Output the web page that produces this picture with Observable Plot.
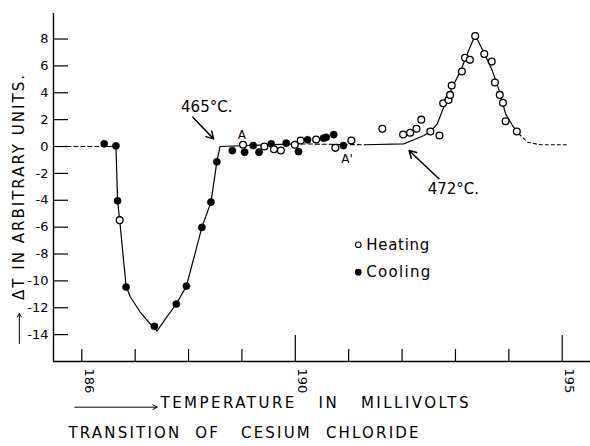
<!DOCTYPE html>
<html><head><meta charset="utf-8">
<script src="https://cdn.jsdelivr.net/npm/d3@7"></script>
<script src="https://cdn.jsdelivr.net/npm/@observablehq/plot@0.6"></script>
<style>
html,body{margin:0;padding:0;background:#fff;}
#chart{width:590px;height:446px;overflow:hidden;}
</style></head><body><div id="chart"></div>
<script>
// ---- axis ticks ----
const xTicks = [186,187,188,189,190,191,192,193,194,195];
const xMajorTicks = [190,195];
const xTickLabels = [186,190,195];
const yTicks = [8,6,4,2,0,-2,-4,-6,-8,-10,-12,-14];

// ---- observations ----
const coolingX = [186.42,186.64,186.67,186.83,187.36,187.77,187.96,188.25,188.42,188.53,188.82,189.05,189.21,189.32,189.55,189.83,190.06,190.23,190.53,190.58,190.72,190.90];
const coolingY = [0.2,0.05,-4.04,-10.46,-13.38,-11.72,-10.39,-6.02,-4.14,-1.14,-0.3,-0.42,0.07,-0.42,0.2,0.25,-0.37,0.5,0.62,0.69,0.89,0.07];
const heatingX = [186.71,189.02,189.42,189.60,189.73,189.99,190.10,190.39,190.75,191.05,191.63,192.02,192.15,192.27,192.36,192.53,192.70,192.77,192.87,192.90,192.93,193.12,193.18,193.27,193.37,193.54,193.68,193.74,193.83,193.89,193.94,194.15];
const heatingY = [-5.48,0.13,0,-0.2,-0.3,0.13,0.45,0.52,-0.1,0.45,1.32,0.89,1.02,1.32,2.0,1.12,0.82,3.22,3.47,3.84,4.54,5.58,6.6,6.45,8.23,6.89,6.32,4.76,3.84,3.25,1.88,1.12];

// ---- drawn curve (segments) ----
const leadX = [185.72,186.42], leadY = [0,0];
const dipX = [186.42,186.64,186.67,186.71,186.83,186.91,187.09,187.25,187.41,187.59,187.77,187.96,188.25,188.42,188.53,188.59,189.98];
const dipY = [0,0,-4.0,-5.5,-10.4,-11.2,-12.3,-13.06,-13.73,-12.7,-11.72,-10.39,-6.02,-4.14,-1.14,0,0.2];
const gapX = [189.98,191.3], gapY = [0.2,0.13];
const peakX = [191.3,192.03,192.22,192.41,192.53,192.66,192.78,192.94,193.10,193.22,193.37,193.53,193.69,193.82,193.94,194.07,194.19];
const peakY = [0.13,0.2,0.5,0.82,1.12,1.69,2.92,4.41,5.65,6.89,8.3,7.01,5.65,4.16,2.43,1.56,0.94];
const tailX = [194.19,194.35,194.6,195.1], tailY = [0.94,0.32,0.13,0.13];

// ---- annotations ----
const annoText = ["465°C.","472°C."];
const annoX = [187.86,192.48], annoY = [2.94,-3.2];
const annoArrowX1 = [188.08,192.69], annoArrowY1 = [2.18,-2.4];
const annoArrowX2 = [188.47,192.13], annoArrowY2 = [0.57,-0.3];
const pointLabels = ["A","A'"];
const pointLabelX = [189.0,190.97], pointLabelY = [0.82,-0.92];
const legendNames = ["Heating","Cooling"];
const legendX = 191.18, legendTextX = 191.33, legendY = [-7.31,-9.35];

const yTitle = "ΔT IN ARBITRARY UNITS.";
const xTitle = "TEMPERATURE\u00a0\u00a0\u00a0IN\u00a0\u00a0\u00a0MILLIVOLTS";
const caption = "TRANSITION\u00a0\u00a0OF\u00a0\u00a0\u00a0CESIUM\u00a0\u00a0CHLORIDE";
const yTitleArrow = {x: 184.83, y1: -14.66, y2: -12.43};
const xTitleArrow = {x1: 185.87, x2: 187.41, y: -19.4};

const xDomain = [185.47,195.53], yDomain = [-16,9.9];
const pts = (X,Y) => X.map((x,i)=>({x, y:Y[i]}));

const W = 590, H = 446, mL = 53, mR = 0, mT = 13, mB = 85;
const frameW = W-mL-mR, frameH = H-mT-mB;

const chart = Plot.plot({
  width: W, height: H,
  marginLeft: mL, marginRight: mR, marginTop: mT, marginBottom: mB,
  x: {domain: xDomain, axis: null},
  y: {domain: yDomain, axis: null},
  style: {fontFamily: "DejaVu Sans", fontSize: "13px", background: "white", color: "black"},
  marks: [
    // axes
    Plot.ruleX([xDomain[0]], {stroke: "black", strokeWidth: 1.4}),
    Plot.ruleY([yDomain[0]], {stroke: "black", strokeWidth: 1.4}),
    Plot.ruleX(xTicks.filter(t => !xMajorTicks.includes(t)), {x: d=>d, insetTop: frameH-12, stroke: "black", strokeWidth: 1.2}),
    Plot.ruleX(xMajorTicks, {x: d=>d, insetTop: frameH-26, stroke: "black", strokeWidth: 1.2}),
    Plot.ruleY(yTicks, {y: d=>d, insetRight: frameW-15, stroke: "black", strokeWidth: 1.2}),
    Plot.text(yTicks, {y: d=>d, frameAnchor: "left", text: d=>String(d), textAnchor: "end", dx: -5, fontSize: 13}),
    Plot.text(xTickLabels, {x: d=>d, frameAnchor: "bottom", text: d=>String(d), rotate: 90, textAnchor: "start", dy: 7, dx: 3, fontSize: 13}),
    // axis titles
    Plot.text([yTitle], {frameAnchor: "left", text: d=>d, rotate: -90, textAnchor: "middle", dx: -34, fontSize: 15}),
    Plot.arrow([yTitleArrow], {x: "x", y1: "y1", y2: "y2", stroke: "black", strokeWidth: 1, headLength: 6}),
    Plot.text([xTitle], {frameAnchor: "bottom-left", text: d=>d, textAnchor: "start", dx: 107, dy: 46, fontSize: 15}),
    Plot.arrow([xTitleArrow], {x1: "x1", x2: "x2", y: "y", stroke: "black", strokeWidth: 1, headLength: 7}),
    Plot.text([caption], {frameAnchor: "bottom-left", text: d=>d, textAnchor: "start", dx: 15, dy: 76, fontSize: 15}),
    // curve
    Plot.line(pts(leadX, leadY), {x: "x", y: "y", stroke: "black", strokeWidth: 1.2, strokeDasharray: "4,3"}),
    Plot.line(pts(dipX, dipY), {x: "x", y: "y", stroke: "black", strokeWidth: 1.2}),
    Plot.line(pts(gapX, gapY), {x: "x", y: "y", stroke: "black", strokeWidth: 1.1, strokeDasharray: "4,3"}),
    Plot.line(pts(peakX, peakY), {x: "x", y: "y", stroke: "black", strokeWidth: 1.2}),
    Plot.line(pts(tailX, tailY), {x: "x", y: "y", stroke: "black", strokeWidth: 1.1, strokeDasharray: "3,3"}),
    // observations
    Plot.dot(pts(coolingX, coolingY), {x: "x", y: "y", r: 3.6, fill: "black", stroke: "black", strokeWidth: 0.5}),
    Plot.dot(pts(heatingX, heatingY), {x: "x", y: "y", r: 3.4, fill: "white", stroke: "black", strokeWidth: 1.3}),
    // annotations
    Plot.text(annoText.map((t,i)=>({t, x: annoX[i], y: annoY[i]})), {x: "x", y: "y", text: "t", textAnchor: "start", fontSize: 15}),
    Plot.arrow(annoText.map((t,i)=>({x1: annoArrowX1[i], y1: annoArrowY1[i], x2: annoArrowX2[i], y2: annoArrowY2[i]})), {x1: "x1", y1: "y1", x2: "x2", y2: "y2", stroke: "black", strokeWidth: 1.5, headLength: 8}),
    Plot.text(pointLabels.map((t,i)=>({t, x: pointLabelX[i], y: pointLabelY[i]})), {x: "x", y: "y", text: "t", fontSize: 12}),
    // legend
    Plot.dot(legendNames.map((n,i)=>({n, y: legendY[i]})), {x: () => legendX, y: "y", r: 2.8, fill: d => d.n === "Heating" ? "white" : "black", stroke: "black", strokeWidth: 1.1}),
    Plot.text(legendNames.map((n,i)=>({n, y: legendY[i]})), {x: () => legendTextX, y: "y", text: "n", textAnchor: "start", fontSize: 15})
  ]
});
document.getElementById("chart").appendChild(chart);

// fit the lettered titles to the widths they span in the original
const fitLength = new Map([[xTitle, 308], [caption, 350], [yTitle, 225], ["Heating", 63], ["Cooling", 64]]);
chart.querySelectorAll("text").forEach(t => {
  const L = fitLength.get(t.textContent);
  if (L) { t.setAttribute("textLength", L); t.setAttribute("lengthAdjust", "spacing"); }
});
</script></body></html>
